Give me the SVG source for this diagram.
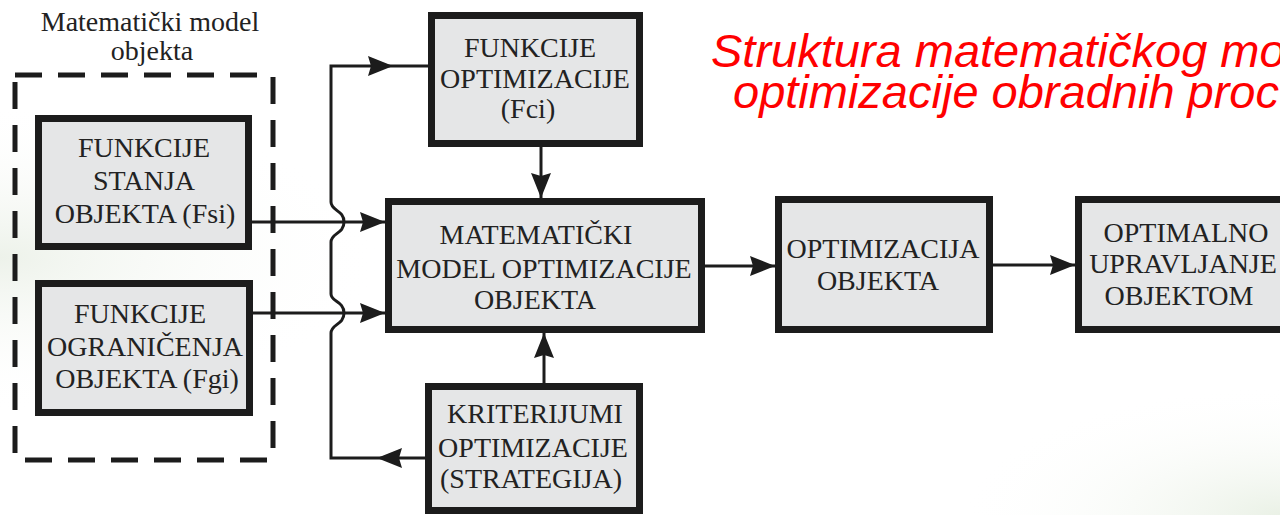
<svg xmlns="http://www.w3.org/2000/svg" width="1280" height="515" viewBox="0 0 1280 515">
<style>
.box{fill:#e5e6e7;stroke:#1c1c1c;stroke-width:7}
.lbl{font-family:"Liberation Serif","Times New Roman",serif;font-size:28px;fill:#222;text-anchor:middle}
.con{fill:none;stroke:#1c1c1c;stroke-width:3}
.dash{fill:none;stroke:#1c1c1c;stroke-width:5;stroke-dasharray:27 16}
.title{font-family:"Liberation Sans",Arial,sans-serif;font-style:italic;font-size:47px;fill:#ff0000}
</style>
<defs>
<marker id="arr" markerUnits="userSpaceOnUse" markerWidth="25" markerHeight="20" refX="25" refY="10" orient="auto" viewBox="0 0 25 20">
<path d="M0,0 L25,10 L0,20 L3,10 z" fill="#1c1c1c"/>
</marker>
<radialGradient id="bgL" cx="0" cy="0.5" r="0.3">
<stop offset="0" stop-color="#edf2ea"/>
<stop offset="1" stop-color="#ffffff" stop-opacity="0"/>
</radialGradient>
<radialGradient id="bgR" cx="1" cy="1" r="0.25">
<stop offset="0" stop-color="#eaf1e6"/>
<stop offset="1" stop-color="#ffffff" stop-opacity="0"/>
</radialGradient>
</defs>
<rect x="0" y="0" width="1280" height="515" fill="#ffffff"/>
<rect x="0" y="0" width="1280" height="515" fill="url(#bgL)"/>
<rect x="0" y="0" width="1280" height="515" fill="url(#bgR)"/>

<g id="title">
<text class="title" x="711" y="67">Struktura matematičkog mo</text>
<text class="title" x="733" y="108">optimizacije obradnih proc</text>
</g>

<g id="model-objekta">
<text class="lbl" x="150" y="31">Matematički model</text>
<text class="lbl" x="152" y="60">objekta</text>
<line class="dash" x1="15" y1="75" x2="262" y2="75"/>
<line class="dash" x1="273" y1="77" x2="273" y2="460"/>
<line class="dash" x1="25" y1="460" x2="270" y2="460"/>
<line class="dash" x1="15" y1="82" x2="15" y2="455"/>
</g>

<g id="connectors">
<line class="con" x1="252" y1="222" x2="385" y2="222" marker-end="url(#arr)"/>
<line class="con" x1="245" y1="313" x2="385" y2="313" marker-end="url(#arr)"/>
<line class="con" x1="541" y1="147" x2="541" y2="198" marker-end="url(#arr)"/>
<line class="con" x1="544" y1="383" x2="544" y2="333" marker-end="url(#arr)"/>
<line class="con" x1="705" y1="266" x2="775" y2="266" marker-end="url(#arr)"/>
<line class="con" x1="993" y1="265" x2="1075" y2="265" marker-end="url(#arr)"/>
<line class="con" x1="425" y1="458" x2="377" y2="458" marker-end="url(#arr)"/>
<path class="con" d="M377,458 H331 V333 C331,324 344,325 344,313 C344,301 331,302 331,294 V242 C331,233 344,234 344,222 C344,210 331,211 331,202 V66 H393" marker-end="url(#arr)"/>
<line class="con" x1="393" y1="66" x2="428" y2="66"/>
</g>

<g id="node-fsi">
<rect class="box" x="38.5" y="118.5" width="210" height="128"/>
<text class="lbl" x="144" y="157">FUNKCIJE</text>
<text class="lbl" x="144" y="190">STANJA</text>
<text class="lbl" x="145" y="223">OBJEKTA (Fsi)</text>
</g>

<g id="node-fgi">
<rect class="box" x="38.5" y="283.5" width="211" height="129"/>
<text class="lbl" x="140" y="323">FUNKCIJE</text>
<text class="lbl" x="145" y="356">OGRANIČENJA</text>
<text class="lbl" x="147" y="388">OBJEKTA (Fgi)</text>
</g>

<g id="node-fci">
<rect class="box" x="431.5" y="15.5" width="208" height="128"/>
<text class="lbl" x="530" y="57">FUNKCIJE</text>
<text class="lbl" x="535" y="88">OPTIMIZACIJE</text>
<text class="lbl" x="528" y="118">(Fci)</text>
</g>

<g id="node-model">
<rect class="box" x="388.5" y="201.5" width="313" height="128"/>
<text class="lbl" x="536" y="244">MATEMATIČKI</text>
<text class="lbl" x="544" y="278">MODEL OPTIMIZACIJE</text>
<text class="lbl" x="535" y="309">OBJEKTA</text>
</g>

<g id="node-optimizacija">
<rect class="box" x="778.5" y="199.5" width="211" height="130"/>
<text class="lbl" x="883" y="258">OPTIMIZACIJA</text>
<text class="lbl" x="878" y="290">OBJEKTA</text>
</g>

<g id="node-upravljanje">
<rect class="box" x="1078.5" y="199.5" width="222" height="130"/>
<text class="lbl" x="1186" y="242">OPTIMALNO</text>
<text class="lbl" x="1183" y="273">UPRAVLJANJE</text>
<text class="lbl" x="1179" y="305">OBJEKTOM</text>
</g>

<g id="node-kriterijumi">
<rect class="box" x="428.5" y="386.5" width="211" height="124"/>
<text class="lbl" x="535" y="423">KRITERIJUMI</text>
<text class="lbl" x="533" y="457">OPTIMIZACIJE</text>
<text class="lbl" x="531" y="488">(STRATEGIJA)</text>
</g>
</svg>
